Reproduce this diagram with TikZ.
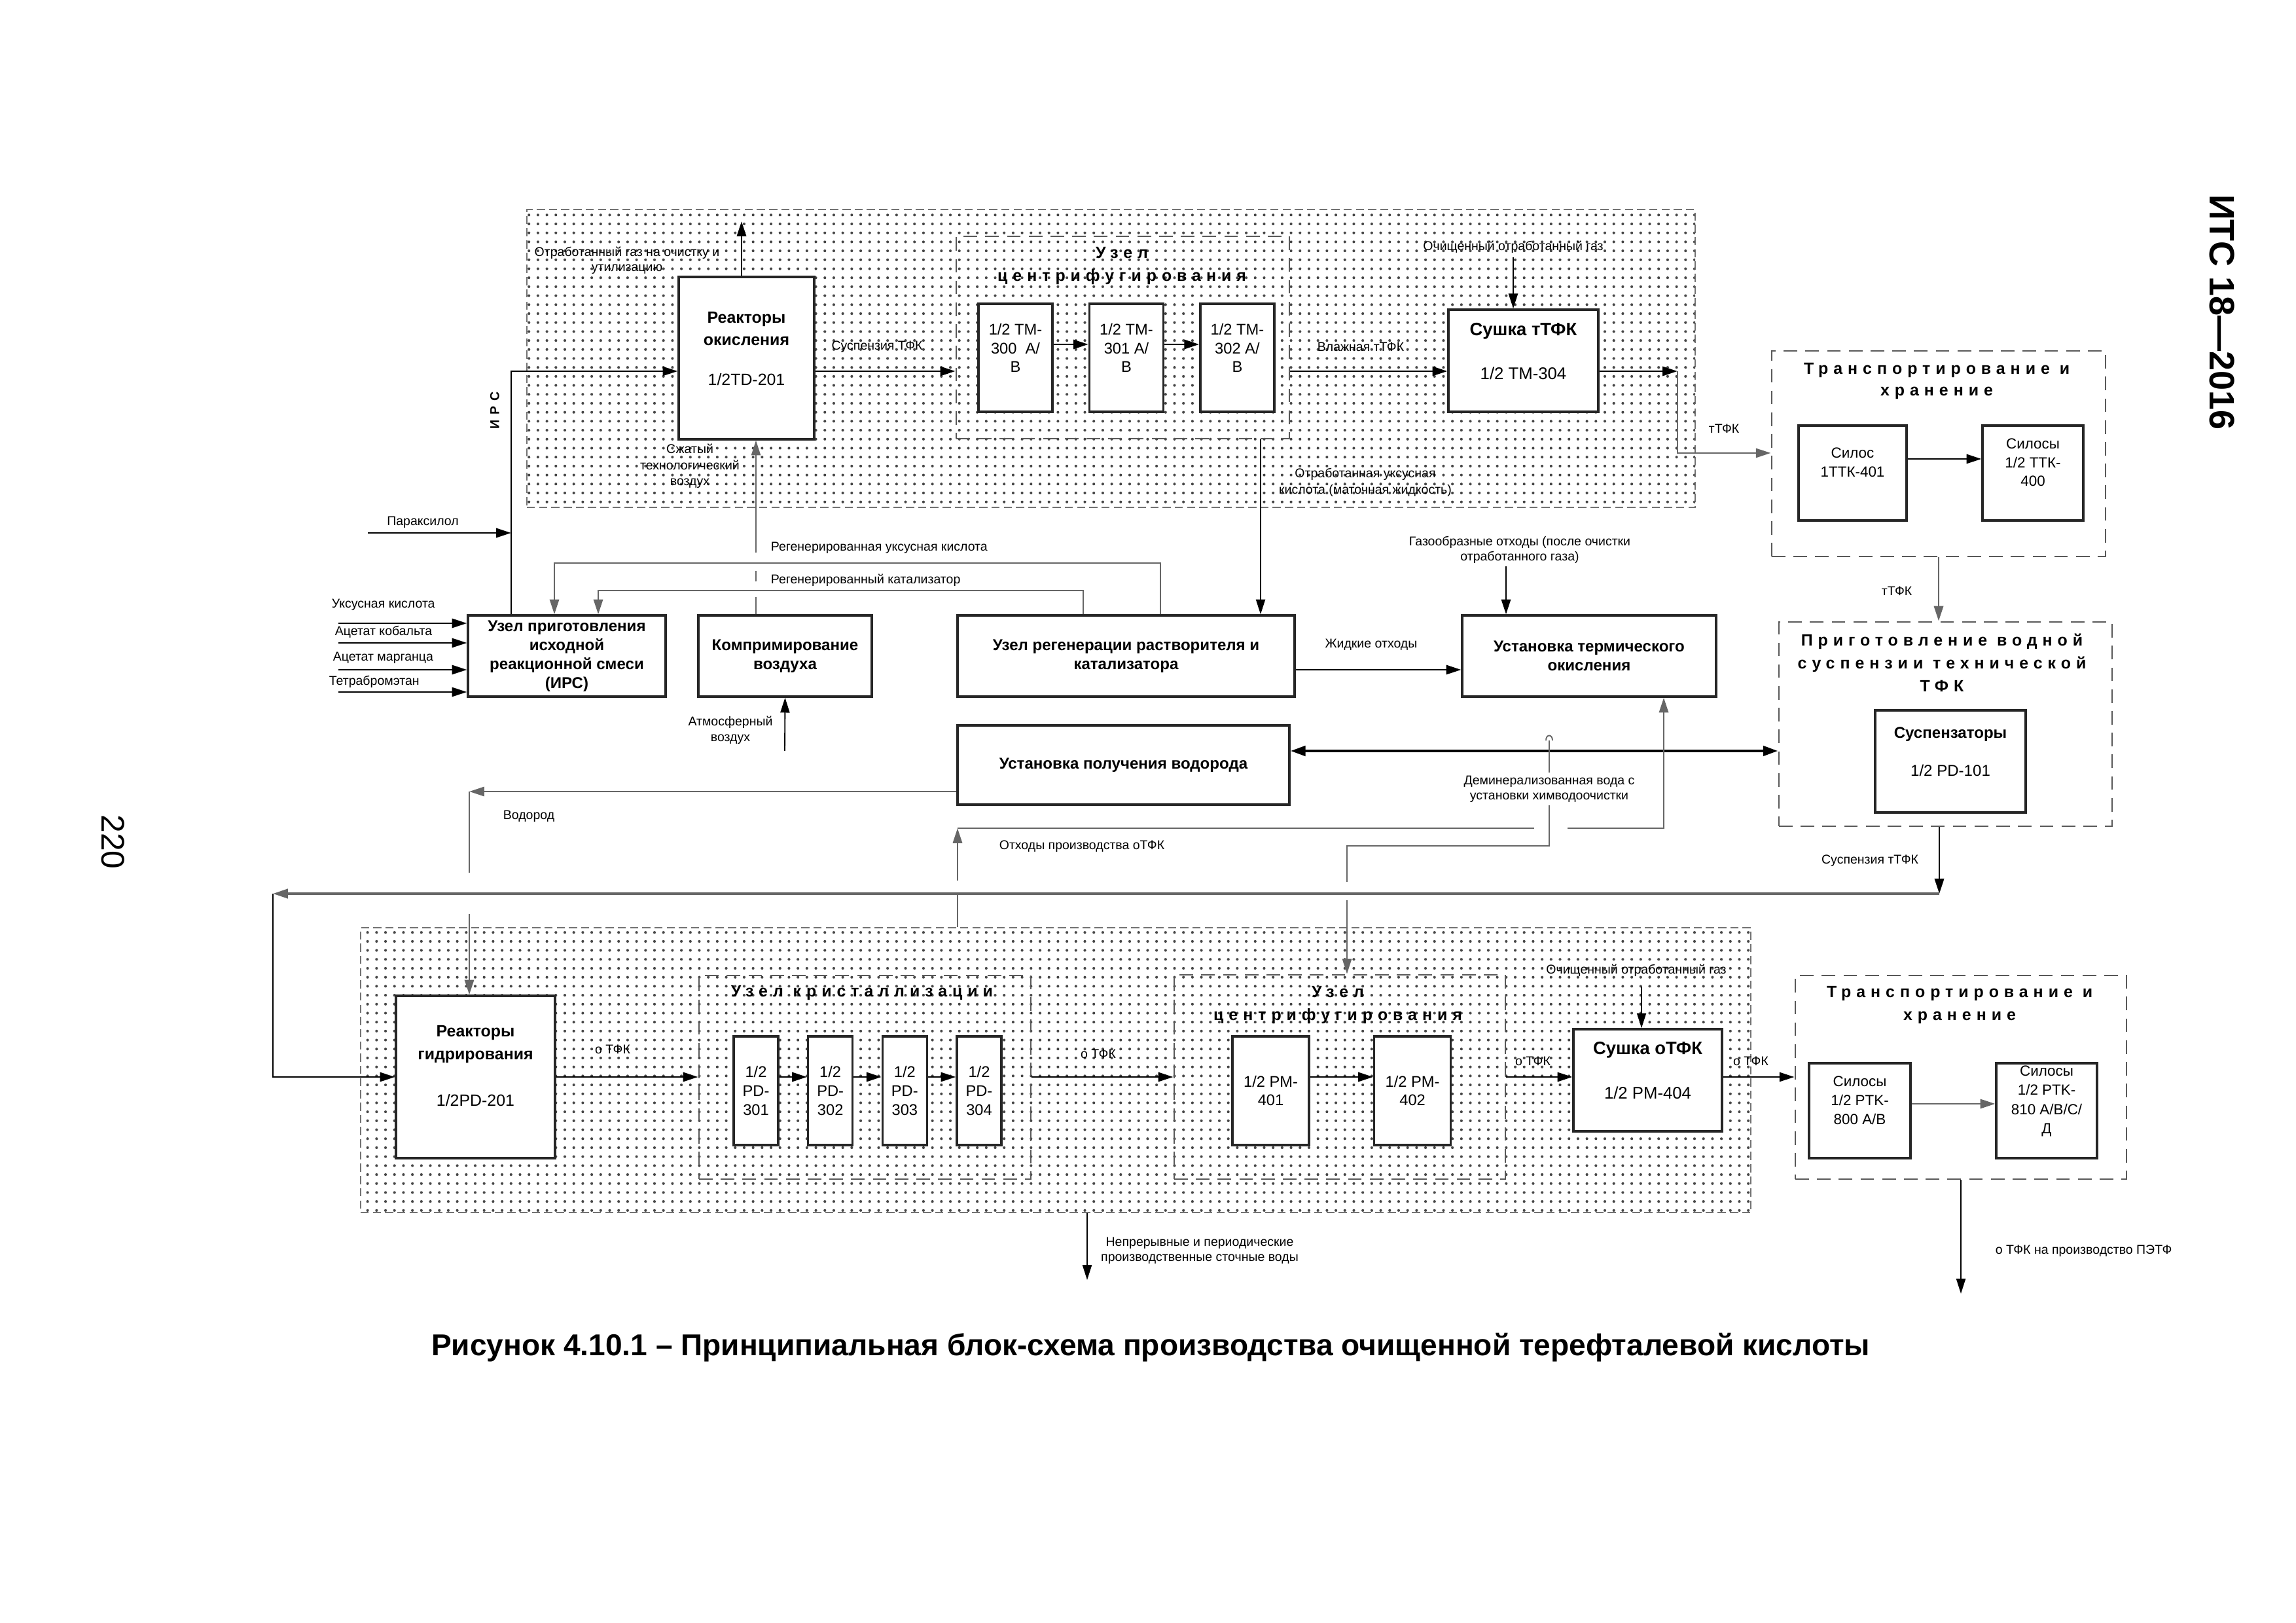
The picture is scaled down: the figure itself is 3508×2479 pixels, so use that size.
\documentclass[tikz,border=0pt]{standalone}
\usepackage{fontspec}
\setmainfont{Liberation Sans}
\usetikzlibrary{positioning}
\usetikzlibrary{arrows.meta}
\usetikzlibrary{patterns}
\newcommand\px{0.2409pt}
\pgfdeclarepatternformonly{finedots}{\pgfqpoint{-1pt}{-1pt}}{\pgfqpoint{1pt}{1pt}}{\pgfqpoint{3.3pt}{3.3pt}}%
  {\pgfpathcircle{\pgfqpoint{0pt}{0pt}}{.5pt}\pgfusepath{fill}}
\tikzset{
  box/.style            = { rectangle, draw=black!85, line width=0.8pt, fill=white, align=center, inner sep=0pt },
  boxsize/.style 2 args = { minimum width=#1*\px, minimum height=#2*\px },
  lift/.style           = { text depth=#1 },
  zone/.style           = { rectangle, draw=black!55, line width=0.7pt, dash pattern=on 3pt off 1.5pt,
                            pattern=finedots, pattern color=black!72, inner sep=0pt },
  group/.style          = { rectangle, draw=black!65, line width=0.7pt, dash pattern=on 5pt off 3pt, inner sep=0pt },
}
\tikzset{
  note/.style   = { font=\fontsize{4.7}{5.5}\selectfont, align=center, inner sep=0pt },
  head/.style   = { font=\bfseries\fontsize{5.8}{7}\selectfont },
  code/.style   = { font=\fontsize{5.7}{6.9}\selectfont },
  silo/.style   = { font=\fontsize{5.4}{7}\selectfont },
  spaced/.style = { font=\bfseries\fontsize{6}{8.4}\selectfont\addfontfeature{LetterSpace=32}, align=center, inner sep=0pt },
  flow/.style     = { line width=0.7pt, draw=black, -{Triangle[length=5.5pt, width=3.4pt]} },
  thinflow/.style = { flow, line width=0.45pt },
  feed/.style     = { flow, draw=black!60 },
  link/.style     = { line width=0.45pt, draw=black!60 },
  both/.style     = { flow, line width=1.1pt, {Triangle[length=5.5pt, width=3.6pt]}-{Triangle[length=5.5pt, width=3.6pt]} }
}
\begin{document}
\begin{tikzpicture}[x=0.0846667mm, y=-0.0846667mm]
  \fill[white] (0,0) rectangle (3508,2479);
  \useasboundingbox (0,0) rectangle (3508,2479);

  % oxidation stage
  \node (topzone) [zone, boxsize={1785}{455}] at (1697.5,547.5) {};
  \node (cgroup1) [group, boxsize={509}{309}] at (1715.5,515.5) {};
  \node (rox) [box, font=\fontsize{6}{8.4}\selectfont, boxsize={207}{248}, lift=7pt] at (1140.5,547)
        {\textbf{Реакторы}\\\textbf{окисления}\\[6.3pt]1/2TD-201};
  \node (tm300) [box, code, boxsize={113}{165}, lift=7.2pt] at (1551.5,546.5) {1/2 TM-\\300\ \ A/\\B};
  \node (tm301) [box, code, boxsize={113}{165}, lift=7.2pt, right=12.8pt of tm300] {1/2 TM-\\301 A/\\B};
  \node (tm302) [box, code, boxsize={113}{165}, lift=7.2pt, right=12.8pt of tm301] {1/2 TM-\\302 A/\\B};
  \node (dry1) [box, font=\fontsize{6.2}{7.5}\selectfont, boxsize={229}{156}, lift=7pt] at (2327.5,551)
        {\textbf{\fontsize{6.6}{7.5}\selectfont Сушка тТФК}\\[8.5pt]1/2 TM-304};
  \node (cg1head) [spaced] at (1714,406) {Узел\\центрифугирования};

  % storage of technical acid
  \node (trans1) [group, boxsize={510}{314}] at (2962,693) {};
  \node (t1head) [spaced, font=\bfseries\fontsize{6}{8}\selectfont\addfontfeature{LetterSpace=32}] at (2959,582) {Транспортирование и\\хранение};
  \node (silo401) [box, silo, boxsize={165}{145}, lift=7.8pt] at (2830.5,722.5) {Силос\\1ТТК-401};
  \node (silo400) [box, silo, font=\fontsize{5.4}{6.9}\selectfont, boxsize={154}{145}, lift=7.8pt] at (3106,722.5) {Силосы\\1/2 ТТК-\\400};

  % middle row
  \node (irs) [box, head, boxsize={302}{124}] at (866,1002) {Узел приготовления\\исходной\\реакционной смеси\\(ИРС)};
  \node (comp) [box, head, boxsize={265}{124}] at (1199.5,1002) {Компримирование\\воздуха};
  \node (regen) [box, head, boxsize={515}{124}] at (1720.5,1002) {Узел регенерации растворителя и\\катализатора};
  \node (therm) [box, head, boxsize={388}{124}] at (2428,1002) {Установка термического\\окисления};
  \node (h2) [box, head, boxsize={507}{121}] at (1716.5,1168.5) {Установка получения водорода};
  \node (suspzone) [group, boxsize={509}{312}] at (2972.5,1106) {};
  \node (susphead) [spaced] at (2967,1012) {Приготовление водной\\суспензии технической\\ТФК};
  \node (suspbox) [box, font=\fontsize{5.8}{7}\selectfont, boxsize={230}{156}, lift=7.2pt] at (2980,1163)
        {\textbf{Суспензаторы}\\[7pt]1/2 PD-101};

  % hydrogenation stage
  \node (botzone) [zone, boxsize={2124}{435}] at (1613,1634.5) {};
  \node (crgroup) [group, boxsize={507}{311}] at (1321.5,1645.5) {};
  \node (cgroup2) [group, boxsize={506}{312}] at (2047,1645) {};
  \node (hyd) [box, font=\fontsize{6}{8.4}\selectfont, boxsize={243}{248}, lift=8.2pt] at (726.5,1645)
        {\textbf{Реакторы}\\\textbf{гидрирования}\\[8.7pt]1/2PD-201};
  \node (crhead) [spaced] at (1317,1517) {Узел кристаллизации};
  \node (pd301) [box, code, font=\fontsize{5.7}{7}\selectfont, boxsize={68}{166}] at (1155,1666) {1/2\\PD-\\301};
  \node (pd302) [box, code, font=\fontsize{5.7}{7}\selectfont, boxsize={68}{166}, right=10.2pt of pd301] {1/2\\PD-\\302};
  \node (pd303) [box, code, font=\fontsize{5.7}{7}\selectfont, boxsize={68}{166}, right=10.2pt of pd302] {1/2\\PD-\\303};
  \node (pd304) [box, code, font=\fontsize{5.7}{7}\selectfont, boxsize={68}{166}, right=10.2pt of pd303] {1/2\\PD-\\304};
  \node (cg2head) [spaced] at (2044,1535) {Узел\\центрифугирования};
  \node (pm401) [box, code, boxsize={117}{166}] at (1941.5,1666) {1/2 PM-\\401};
  \node (pm402) [box, code, boxsize={117}{166}, right=23.2pt of pm401] {1/2 PM-\\402};
  \node (dry2) [box, font=\fontsize{6.2}{7.5}\selectfont, boxsize={227}{156}, lift=7.2pt] at (2517.5,1650)
        {\textbf{\fontsize{6.6}{7.5}\selectfont Сушка оТФК}\\[9pt]1/2 PM-404};

  % storage of purified acid
  \node (trans2) [group, boxsize={506}{311}] at (2996,1645.5) {};
  \node (t2head) [spaced, font=\bfseries\fontsize{6}{8.6}\selectfont\addfontfeature{LetterSpace=32}] at (2994,1535) {Транспортирование и\\хранение};
  \node (silo800) [box, silo, boxsize={155}{145}, lift=7.6pt] at (2841.5,1696.5) {Силосы\\1/2 PTK-\\800 A/B};
  \node (silo810) [box, silo, boxsize={154}{145}, lift=8.1pt] at (3127,1696.5) {Силосы\\1/2 PTK-\\810 A/B/C/\\Д};

  % labels
  \node (offgasl) [note] at (958,398) {Отработанный газ на очистку и\\утилизацию};
  \node (irsl) [note, font=\bfseries\fontsize{4.7}{5.5}\selectfont\addfontfeature{LetterSpace=40}, rotate=90] at (756,627) {ИРС};
  \node (pxl) [note] at (646,798) {Параксилол};
  \node (suspl) [note] at (1340,530) {Суспензия ТФК};
  \node (airl) [note, font=\fontsize{4.7}{5.9}\selectfont] at (1054,712) {Сжатый\\технологический\\воздух};
  \node (wetl) [note] at (2079,530) {Влажная тТФК};
  \node (gas1l) [note] at (2312,377) {Очищенный отработанный газ};
  \node (ttfk1l) [note] at (2634,655) {тТФК};
  \node (liquorl) [note, font=\fontsize{4.7}{6}\selectfont] at (2086,737) {Отработанная уксусная\\кислота (маточная жидкость)};
  \node (regacl) [note, anchor=west] at (1177,837) {Регенерированная уксусная кислота};
  \node (regcatl) [note, anchor=west] at (1177,886) {Регенерированный катализатор};
  \node (gaswl) [note] at (2322,840) {Газообразные отходы (после очистки\\отработанного газа)};
  \node (liqwl) [note] at (2095,985) {Жидкие отходы};
  \node (acidl) [note, anchor=west] at (506,924) {Уксусная кислота};
  \node (cobl) [note, anchor=west] at (511,965) {Ацетат кобальта};
  \node (mnl) [note, anchor=west] at (508,1005) {Ацетат марганца};
  \node (tbel) [note, anchor=west] at (502,1041) {Тетрабромэтан};
  \node (atml) [note, font=\fontsize{4.7}{5.8}\selectfont] at (1116,1115) {Атмосферный\\воздух};
  \node (ttfk2l) [note] at (2898,903) {тТФК};
  \node (demin) [note, inner sep=1pt] at (2367,1205) {Деминерализованная вода с\\установки химводоочистки};
  \node (h2l) [note] at (808,1247) {Водород};
  \node (wastel) [note] at (1653,1293) {Отходы производства оТФК};
  \node (susp2l) [note] at (2857,1315) {Суспензия тТФК};
  \node (o1l) [note] at (936,1603) {о ТФК};
  \node (o2l) [note] at (1678,1610) {о ТФК};
  \node (o3l) [note] at (2342,1621) {о ТФК};
  \node (o4l) [note] at (2675,1621) {о ТФК};
  \node (gas2l) [note] at (2500,1482) {Очищенный отработанный газ};
  \node (wwl) [note] at (1833,1910) {Непрерывные и периодические\\производственные сточные воды};
  \node (petl) [note, anchor=west] at (3048,1911) {о ТФК на производство ПЭТФ};

  \node (caption) [font=\bfseries\fontsize{11.1}{13}\selectfont] at (1758,2058)
        {Рисунок 4.10.1 – Принципиальная блок-схема производства очищенной терефталевой кислоты};
  \node (stdname) [font=\bfseries\fontsize{13}{15}\selectfont, rotate=-90] at (3395,477) {ИТС 18—2016};
  \node (pageno) [font=\fontsize{12}{14}\selectfont, rotate=-90] at (173,1286) {220};

  % free ends and bends
  \coordinate (offgas) at (1133,338);
  \coordinate (irsup) at (781,567);
  \coordinate (pxin) at (562,814);
  \coordinate (acin) at (517,952);
  \coordinate (cobin) at (517,982);
  \coordinate (mnin) at (517,1023);
  \coordinate (tbein) at (517,1057);
  \coordinate (gas1) at (2312,393);
  \coordinate (dryturn) at (2563,567);
  \coordinate (gasw) at (2301,865);
  \coordinate (atm) at (1199,1147);
  \coordinate (regacbend) at (847,860);
  \coordinate (regcatbend) at (914,902);
  \coordinate (h2c) at (717,1209);
  \coordinate (loopr) at (2963,1365);
  \coordinate (loopl) at (417,1365);
  \coordinate (wastec) at (1463,1265);
  \coordinate (deminc) at (2058,1292);
  \coordinate (gas2) at (2508,1507);
  \coordinate (ww) at (1661,1955);
  \coordinate (pet) at (2995,1976);

  % top stage flows
  \draw [flow]     (rox.north -| offgas) -- (offgas);
  \draw [thinflow] (irs.north -| irsup) -- (irsup) -- (rox.west |- irsup);
  \draw [flow]     (pxin) -- (pxin -| irsup);
  \draw [flow]     (rox.east |- 0,567) -- (cgroup1.west |- 0,567);
  \draw [flow]     (tm300.east |- 0,526) -- (tm301.west |- 0,526);
  \draw [flow]     (tm301.east |- 0,526) -- (tm302.west |- 0,526);
  \draw [flow]     (cgroup1.east |- 0,567) -- (dry1.west |- 0,567);
  \draw [thinflow] (gas1) -- (dry1.north -| gas1);
  \draw [flow]     (dry1.east |- dryturn) -- (dryturn);
  \draw [feed]     (dryturn) |- (trans1.west |- 0,692);
  \draw [flow]     (silo401.east |- 0,701) -- (silo400.west |- 0,701);
  \draw [feed]     (trans1.south) -- (suspzone.north -| trans1.south);

  % middle flows
  \draw [flow]     (acin) -- (acin -| irs.west);
  \draw [flow]     (cobin) -- (cobin -| irs.west);
  \draw [flow]     (mnin) -- (mnin -| irs.west);
  \draw [flow]     (tbein) -- (tbein -| irs.west);
  \draw [feed, line width=0.5pt] (comp.north -| 1155,0) -- ++(0,-26) ++(0,-24) -- ++(0,-16) ++(0,-28) -- (rox.south -| 1155,0);
  \draw [thinflow] (atm) -- (comp.south);
  \draw [thinflow] (cgroup1.south -| 1926,0) -- (regen.north -| 1926,0);
  \draw [feed]     (regen.north -| 1773,0) |- (regacbend) -- (irs.north -| regacbend);
  \draw [feed]     (regen.north -| 1655,0) |- (regcatbend) -- (irs.north -| regcatbend);
  \draw [flow]     (regen.east |- 0,1023) -- (therm.west |- 0,1023);
  \draw [flow]     (gasw) -- (therm.north -| gasw);
  \draw [both]     (h2.east |- 0,1147) -- (suspzone.west |- 0,1147);
  \draw [link]     (demin.north) -- (2367,1131);
  \draw [link]     (2362,1131) .. controls (2362,1121) and (2372,1121) .. (2372,1131);
  \draw [feed, line width=0.45pt] (demin.south) |- (deminc) -- ++(0,55) ++(0,28) -- (cgroup2.north -| deminc);
  \draw [feed]     (botzone.north -| wastec) -- ++(0,-51) ++(0,-20) -- (wastec);
  \draw [feed]     (wastec) -- (2344,1265) ++(51,0) -- (2542,1265) -- (therm.south -| 2542,0);
  \draw [feed]     (h2.west |- h2c) -- (h2c);
  \draw [feed]     (h2c) -- ++(0,124) ++(0,63) -- (hyd.north -| h2c);
  \draw [flow]     (suspzone.south -| loopr) -- (loopr);
  \draw [feed, line width=0.9pt] (loopr) -- (loopl);
  \draw [flow]     (loopl) |- (hyd.west);

  % bottom stage flows
  \draw [flow]     (hyd.east) -- (crgroup.west |- hyd.east);
  \draw [flow]     (pd301.east |- 0,1645) -- (pd302.west |- 0,1645);
  \draw [flow]     (pd302.east |- 0,1645) -- (pd303.west |- 0,1645);
  \draw [flow]     (pd303.east |- 0,1645) -- (pd304.west |- 0,1645);
  \draw [flow]     (crgroup.east |- 0,1645) -- (cgroup2.west |- 0,1645);
  \draw [flow]     (pm401.east |- 0,1645) -- (pm402.west |- 0,1645);
  \draw [flow]     (cgroup2.east |- 0,1645) -- (dry2.west |- 0,1645);
  \draw [thinflow] (gas2) -- (dry2.north -| gas2);
  \draw [flow]     (dry2.east |- 0,1645) -- (trans2.west |- 0,1645);
  \draw [feed]     (silo800.east |- 0,1686) -- (silo810.west |- 0,1686);
  \draw [thinflow] (botzone.south -| ww) -- (ww);
  \draw [thinflow] (trans2.south) -- (trans2.south |- pet);
\end{tikzpicture}
\end{document}
